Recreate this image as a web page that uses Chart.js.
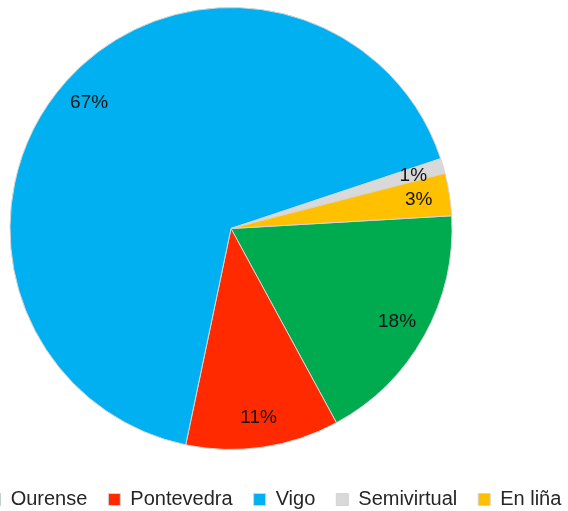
<!DOCTYPE html>
<html><head><meta charset="utf-8">
<script src="https://cdn.jsdelivr.net/npm/chart.js@4"></script>
<style>
html,body{margin:0;padding:0;background:#fff;overflow:hidden;width:568px;height:511px;}
#wrap{position:absolute;left:-75px;top:-20px;width:700px;height:540px;}
</style></head><body>
<div id="wrap"><canvas id="c" width="700" height="540"></canvas></div>
<script>
const categories = ['Ourense', 'Pontevedra', 'Vigo', 'Semivirtual', 'En liña'];
const shares = [18.0, 11.2, 66.6, 1.1, 3.1];
const sliceColors = ['#00AA4F', '#FF2A00', '#00B0F0', '#D9D9D9', '#FFC000'];

const pctLabels = {
  id: 'pctLabels',
  afterDatasetsDraw(chart) {
    const ctx = chart.ctx;
    const meta = chart.getDatasetMeta(0);
    const data = chart.data.datasets[0].data;
    const total = data.reduce((a, b) => a + b, 0);
    ctx.save();
    ctx.font = '19px "Liberation Sans", Arial, sans-serif';
    ctx.fillStyle = '#141414';
    ctx.textAlign = 'center';
    ctx.textBaseline = 'middle';
    meta.data.forEach((arc, i) => {
      const p = arc.getProps(['x', 'y', 'startAngle', 'endAngle', 'outerRadius'], true);
      const a = (p.startAngle + p.endAngle) / 2;
      const r = p.outerRadius * 0.86;
      ctx.fillText(Math.round(data[i] / total * 100) + '%', p.x + Math.cos(a) * r, p.y + Math.sin(a) * r + 1);
    });
    ctx.restore();
  }
};

new Chart(document.getElementById('c'), {
  type: 'pie',
  data: {
    labels: categories,
    datasets: [{
      data: shares,
      backgroundColor: sliceColors,
      borderColor: '#d4d4d4',
      borderWidth: 1,
      radius: 221
    }]
  },
  options: {
    responsive: false,
    animation: false,
    devicePixelRatio: 1,
    rotation: 86.7,
    layout: { padding: { top: 8.5, bottom: 0.5, left: 0, right: 0 } },
    plugins: {
      tooltip: { enabled: false },
      title: {
        display: true, text: ' ', position: 'right', fullSize: false,
        font: { size: 10 }, padding: { top: 0, bottom: 76 }
      },
      legend: {
        position: 'bottom',
        labels: {
          boxWidth: 12, boxHeight: 12, padding: 21,
          color: '#262626',
          font: { family: '"Liberation Sans", Arial, sans-serif', size: 20 }
        }
      }
    }
  },
  plugins: [pctLabels]
});
</script>
</body></html>
